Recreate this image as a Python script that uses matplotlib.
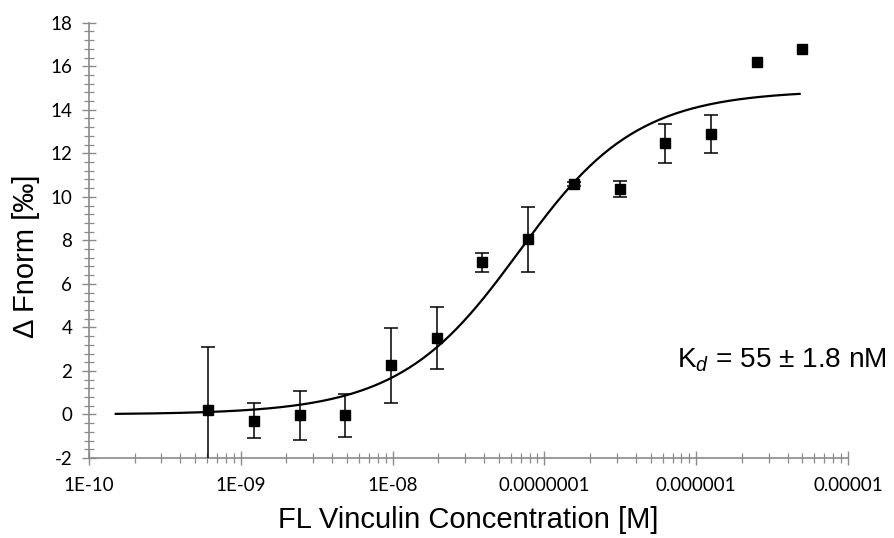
import numpy as np
import matplotlib
matplotlib.use("Agg")
import matplotlib.pyplot as plt
from matplotlib.ticker import MultipleLocator, LogLocator, FixedLocator, FixedFormatter, NullFormatter

plt.rcParams.update({
    "font.family": ["Liberation Sans", "DejaVu Sans"],
    "mathtext.fontset": "custom",
    "mathtext.rm": "Liberation Sans",
    "mathtext.it": "Liberation Sans:italic",
    "axes.unicode_minus": False,
})

# measured data (2-fold dilution series of FL vinculin)
conc = [6.1e-10, 1.22e-9, 2.44e-9, 4.88e-9, 9.77e-9, 1.95e-8, 3.9e-8,
        7.8e-8, 1.56e-7, 3.125e-7, 6.25e-7, 1.25e-6, 2.5e-6, 5e-6]
fnorm = [0.2, -0.28, -0.04, -0.04, 2.26, 3.5, 6.99,
         8.05, 10.59, 10.34, 12.46, 12.88, 16.19, 16.79]
err = [2.9, 0.82, 1.12, 1.0, 1.73, 1.43, 0.43,
       1.49, 0.1, 0.37, 0.9, 0.88, 0.0, 0.0]

# fit parameters (quadratic binding model)
kd = 55e-9
target = 25e-9
f_unbound = 0.0
f_bound = 14.9
fit_range = (1.5e-10, 4.8e-6)

xtick_vals = [1e-10, 1e-9, 1e-8, 1e-7, 1e-6, 1e-5]
xtick_labels = ["1E-10", "1E-09", "1E-08", "0.0000001", "0.000001", "0.00001"]

gray = "#8a8a8a"
tick_font = "Lato"

fig = plt.figure(figsize=(8.95, 5.38), dpi=100)
ax = fig.add_axes([89/895, 80/538, 759/895, 435.3/538])

c = np.logspace(np.log10(fit_range[0]), np.log10(fit_range[1]), 300)
s = c + target + kd
frac = (s - np.sqrt(s**2 - 4*c*target)) / (2*target)
ax.plot(c, f_unbound + (f_bound - f_unbound)*frac, color="black", lw=1.6, zorder=2)

x = np.array(conc); y = np.array(fnorm); e = np.array(err)
has_err = e > 0
ax.errorbar(x[has_err], y[has_err], yerr=e[has_err], fmt="none",
            ecolor="black", elinewidth=1.1, capsize=4.7, capthick=1.1, zorder=3)
ax.plot(x, y, "s", color="black", ms=6.7, zorder=4)

ax.set_xscale("log")
ax.set_xlim(1e-10, 1e-5)
ax.set_ylim(-2, 18)

ax.xaxis.set_major_locator(FixedLocator(xtick_vals))
ax.xaxis.set_major_formatter(FixedFormatter(xtick_labels))
ax.xaxis.set_minor_locator(LogLocator(base=10, subs=np.arange(2, 10)))
ax.xaxis.set_minor_formatter(NullFormatter())
ax.yaxis.set_major_locator(MultipleLocator(2))
ax.yaxis.set_minor_locator(MultipleLocator(0.4))

for sp in ("top", "right"):
    ax.spines[sp].set_visible(False)
for sp in ("left", "bottom"):
    ax.spines[sp].set_color(gray)
    ax.spines[sp].set_linewidth(1.2)

ax.tick_params(which="major", direction="inout", length=10, width=1.0, color=gray,
               labelsize=13.5, pad=9)
ax.tick_params(which="minor", direction="inout", length=7, width=0.9, color=gray)
ax.tick_params(axis="y", which="major", pad=7)
for lab in ax.get_xticklabels() + ax.get_yticklabels():
    lab.set_fontfamily(tick_font)

ax.set_xlabel("FL Vinculin Concentration [M]", fontsize=21, labelpad=8)
ax.set_ylabel("Δ Fnorm [‰]", fontsize=21)
ax.yaxis.set_label_coords(-0.065, 0.464)

ax.text(0.775, 0.207, r"K$_{\mathit{d}}$ = 55 ± 1.8 nM", transform=ax.transAxes,
        fontsize=20.2, ha="left", va="baseline")

fig.savefig("out.png", dpi=100)
